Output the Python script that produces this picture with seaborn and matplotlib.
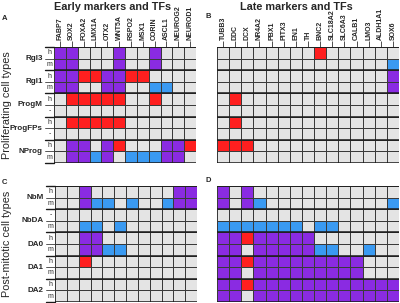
import numpy as np
import pandas as pd
import matplotlib
matplotlib.use("Agg")
import matplotlib.pyplot as plt
import seaborn as sns
from matplotlib.colors import ListedColormap

# markers (columns)
early_markers = ["FABP7", "SOX2", "FOXA2", "LMX1A", "OTX2", "WNT5A", "RSPO2",
                 "MSX1", "CORIN", "ASCL1", "NEUROG2", "NEUROD1"]
late_markers = ["TUBB3", "DDC", "DCX", "NR4A2", "PBX1", "PITX3", "EN1", "TH",
                "BNC2", "SLC18A2", "SLC6A3", "CALB1", "LMO3", "ALDH1A1", "SOX6"]

# cell types (rows, two sub rows each)
prolif_types = ["Rgl3", "Rgl1", "ProgM", "ProgFPs", "NProg"]
prolif_species = ["h", "m", "h", "m", "h", "-", "h", "-", "h", "m"]
post_types = ["NbM", "NbDA", "DA0", "DA1", "DA2"]
post_species = ["h", "m", "-", "m", "h", "m", "h", "m", "h", "m"]

# . = not expressed, P = both, R = human only, B = mouse only
early_prolif = [
    "PP...P..P...",
    "PP...P..P...",
    "PPRRPPRR....",
    "PP..PP..BB..",
    ".RRRRR..R...",
    "............",
    ".RRRRR......",
    "............",
    ".PP.PR...PPR",
    ".PPBP.BBBPP.",
]
late_prolif = [
    "........R......",
    "..............B",
    "..............P",
    "..............P",
    ".R.............",
    "...............",
    ".R.............",
    "...............",
    "RRR............",
    "...............",
]
early_post = [
    "..P.......PP",
    "..PBB.B..BPP",
    "............",
    "..BB.B......",
    "..PP........",
    "..PPBB......",
    "..R.........",
    "............",
    "............",
    "............",
]
late_post = [
    "P.P............",
    "P.PB..........B",
    "...............",
    "BBBBBBB.BB.....",
    "PPRPPPPP.......",
    "PP.PPPPPBB..B..",
    "PPRPPPPPPPPP...",
    "PP.PPPPPPPPP...",
    "PPRPPPPPPPPPPPP",
    "PP.PPPPPPPPPPPP",
]

code = {".": 0, "P": 1, "R": 2, "B": 3}
cmap = ListedColormap(["#e4e4e4", "#8a2be2", "#ff1f1f", "#3a9af2"])

sns.set_style("white")
plt.rcParams['font.family'] = ['Liberation Sans', 'DejaVu Sans']
narrow = ['Liberation Sans Narrow', 'Liberation Sans']

fig = plt.figure(figsize=(4, 3.03), dpi=100)
W, H = 400, 303


def make_axes(left, top, width, height):
    return fig.add_axes([left / W, 1 - (top + height) / H, width / W, height / H])


def draw_panel(ax, rows, cols, types, species, top_labels, left_labels):
    grid = np.array([[code[c] for c in r] for r in rows])
    df = pd.DataFrame(grid, columns=cols)
    sns.heatmap(df, ax=ax, cmap=cmap, vmin=-0.5, vmax=3.5, cbar=False,
                linewidths=0.6, linecolor="#3a3a3a",
                xticklabels=cols if top_labels else False, yticklabels=False)
    for y in [0, 2, 4, 6, 8, 10]:
        ax.axhline(y, color="#1a1a1a", lw=1.1)
    if top_labels:
        ax.xaxis.tick_top()
        ax.tick_params(axis="x", length=4, width=0.6, pad=1, color="#333")
        for t in ax.get_xticklabels():
            t.set_rotation(90)
            t.set_fontsize(5.0)
            t.set_fontweight("bold")
            t.set_family(narrow)
    if left_labels:
        for i in range(0, 11, 2):
            ax.plot([-0.8, 0], [i, i], color="#1a1a1a", lw=1.0, clip_on=False)
        for i in range(1, 10, 2):
            ax.plot([-0.8, 0], [i, i], color="#3a3a3a", lw=0.6, clip_on=False)
        for k, name in enumerate(types):
            ax.text(-0.95, 2 * k + 1, name, ha="right", va="center",
                    fontsize=5.8, fontweight="bold", family=narrow)
        for k, s in enumerate(species):
            ax.text(-0.38, k + 0.5, s, ha="center", va="center", fontsize=5,
                    family=narrow)


axA = make_axes(54, 47, 142, 116)
axB = make_axes(217, 47, 182, 116)
axC = make_axes(55, 186, 142, 116)
axD = make_axes(217, 186, 182, 116)

draw_panel(axA, early_prolif, early_markers, prolif_types, prolif_species, True, True)
draw_panel(axB, late_prolif, late_markers, prolif_types, prolif_species, True, False)
draw_panel(axC, early_post, early_markers, post_types, post_species, False, True)
draw_panel(axD, late_post, late_markers, post_types, post_species, False, False)

fig.text(113 / W, 1 - 7 / H, "Early markers and TFs", ha="center", va="center",
         fontsize=7.8, fontweight="bold")
fig.text(296 / W, 1 - 7 / H, "Late markers and TFs", ha="center", va="center",
         fontsize=7.8, fontweight="bold")
for letter, x, y in [("A", 5, 18), ("B", 208, 17), ("C", 4, 182), ("D", 208, 180)]:
    fig.text(x / W, 1 - y / H, letter, ha="center", va="center",
             fontsize=5.5, fontweight="bold")
fig.text(7 / W, 1 - 105 / H, "Proliferating cell types", rotation=90,
         ha="center", va="center", fontsize=7.8)
fig.text(7 / W, 1 - 244 / H, "Post-mitotic cell types", rotation=90,
         ha="center", va="center", fontsize=7.8)

fig.savefig("out.png", dpi=100)
